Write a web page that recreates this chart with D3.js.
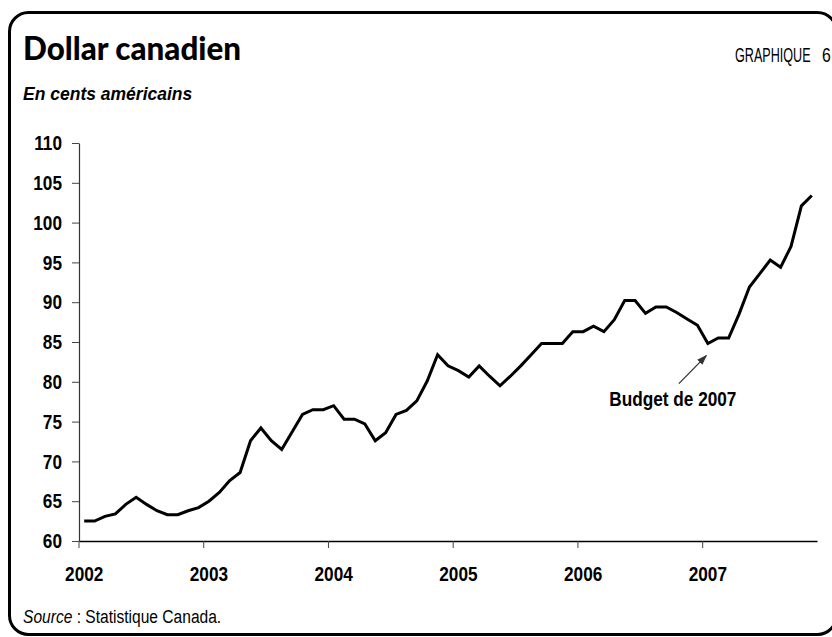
<!DOCTYPE html>
<html>
<head>
<meta charset="utf-8">
<script src="https://cdn.jsdelivr.net/npm/d3@7"></script>
<style>
  html, body { margin: 0; padding: 0; background: #fff; }
  svg { display: block; }
  text { font-family: "Liberation Sans", Arial, sans-serif; }
</style>
</head>
<body>
<div id="chart"></div>
<script>
// Dollar canadien, en cents américains — moyennes mensuelles, janv. 2002 à nov. 2007

const YEARS = ['2002', '2003', '2004', '2005', '2006', '2007'];
const Y_TICKS = [60, 65, 70, 75, 80, 85, 90, 95, 100, 105, 110];

const CAD_2002 = [62.5, 62.5, 63.1, 63.4, 64.6, 65.5, 64.6, 63.8, 63.3, 63.3, 63.8, 64.2];
const CAD_2003 = [65.0, 66.1, 67.6, 68.6, 72.6, 74.2, 72.6, 71.5, 73.7, 75.9, 76.5, 76.5];
const CAD_2004 = [77.0, 75.3, 75.3, 74.7, 72.6, 73.6, 75.9, 76.4, 77.6, 80.1, 83.4, 82.0];
const CAD_2005 = [81.4, 80.6, 82.0, 80.7, 79.5, 80.7, 82.0, 83.4, 84.8, 84.8, 84.8, 86.3];
const CAD_2006 = [86.3, 87.0, 86.3, 87.8, 90.2, 90.2, 88.6, 89.4, 89.4, 88.7, 87.9, 87.1];
const CAD_2007 = [84.8, 85.5, 85.5, 88.5, 91.9, 93.6, 95.3, 94.4, 97.0, 102.1, 103.4];

const ANNOTATION = { label: 'Budget de 2007', month: 60 };

const values = [].concat(CAD_2002, CAD_2003, CAD_2004, CAD_2005, CAD_2006, CAD_2007);

const W = 832, H = 637;
const NARROW = 0.82;   // pas d'Arial Narrow installée : on comprime Liberation Sans

// comprime horizontalement un texte autour de son point d'ancrage
function narrow(sel, k = NARROW) {
  sel.each(function () {
    const t = d3.select(this);
    const x0 = +t.attr('x') || 0;
    t.attr('transform', `translate(${x0},0) scale(${k},1) translate(${-x0},0)`);
  });
}

const svg = d3.select('#chart').append('svg').attr('width', W).attr('height', H);

// cadre arrondi (le bord droit déborde de la page, comme dans l'original)
svg.append('rect')
  .attr('x', 9.5).attr('y', 12.5).attr('width', 827).attr('height', 622)
  .attr('rx', 19).attr('ry', 19)
  .attr('fill', 'none').attr('stroke', '#000').attr('stroke-width', 3);

svg.append('text')
  .attr('x', 23).attr('y', 60)
  .attr('textLength', 218).attr('lengthAdjust', 'spacingAndGlyphs')
  .style('font-family', 'Lato, "Open Sans", sans-serif')
  .style('font-weight', 900).style('font-size', '32px')
  .text('Dollar canadien');

svg.append('text')
  .attr('x', 735).attr('y', 61.7)
  .style('font-size', '21px')
  .text('GRAPHIQUE')
  .call(narrow, 0.6);
svg.append('text')
  .attr('x', 822).attr('y', 61.7)
  .style('font-size', '21px')
  .text('6')
  .call(narrow, 0.75);

svg.append('text')
  .attr('x', 23).attr('y', 100)
  .style('font-weight', 700).style('font-style', 'italic').style('font-size', '17.5px')
  .text('En cents américains');

const src = svg.append('text')
  .attr('x', 23).attr('y', 623.5)
  .style('font-size', '19px');
src.append('tspan').style('font-style', 'italic').text('Source');
src.append('tspan').text(' : Statistique Canada.');
src.call(narrow);

// échelles
const x = d3.scaleBand().domain(d3.range(values.length)).range([79, 817]);
const y = d3.scaleLinear().domain([60, 110]).range([541, 143]);
const cx = i => x(i) + x.bandwidth() / 2;

// axe vertical
const gy = svg.append('g')
  .attr('transform', 'translate(79,0)')
  .call(d3.axisLeft(y).tickValues(Y_TICKS).tickSize(7).tickSizeOuter(0).tickPadding(10));
gy.select('.domain').attr('stroke', '#333').attr('stroke-width', 1.2);
gy.selectAll('.tick line').attr('stroke', '#444');
gy.selectAll('.tick text')
  .attr('fill', '#000')
  .style('font-family', '"Liberation Sans", Arial, sans-serif')
  .style('font-size', '21px').style('font-weight', 700)
  .call(narrow);

// axe horizontal : traits au début de chaque année, étiquettes sous janvier
const yearStarts = YEARS.map((_, k) => k * 12);
const gx = svg.append('g')
  .attr('transform', 'translate(0,541)')
  .call(d3.axisBottom(x).tickValues(yearStarts).tickFormat((d, k) => YEARS[k])
    .tickSize(7).tickSizeOuter(0).tickPadding(0));
gx.select('.domain').attr('stroke', '#000').attr('stroke-width', 1.5);
gx.selectAll('.tick line')
  .attr('x1', -x.bandwidth() / 2).attr('x2', -x.bandwidth() / 2)
  .attr('stroke', '#444');
gx.selectAll('.tick text')
  .attr('y', 40.5).attr('dy', 0)
  .attr('fill', '#000')
  .style('font-family', '"Liberation Sans", Arial, sans-serif')
  .style('font-size', '21px').style('font-weight', 700)
  .call(narrow);

// série
svg.append('path')
  .datum(values)
  .attr('fill', 'none').attr('stroke', '#000').attr('stroke-width', 3)
  .attr('stroke-linejoin', 'miter')
  .attr('d', d3.line().x((d, i) => cx(i)).y(d => y(d)));

// annotation
svg.append('defs').append('marker')
  .attr('id', 'arrow').attr('viewBox', '0 0 10 10')
  .attr('refX', 9).attr('refY', 5)
  .attr('markerWidth', 8).attr('markerHeight', 8)
  .attr('orient', 'auto')
  .append('path').attr('d', 'M0,1.5L10,5L0,8.5Z').attr('fill', '#333');

const ax = cx(ANNOTATION.month), ay = y(values[ANNOTATION.month]);
svg.append('line')
  .attr('x1', ax - 29).attr('y1', ay + 40)
  .attr('x2', ax - 1.5).attr('y2', ay + 12)
  .attr('stroke', '#333').attr('stroke-width', 1.3)
  .attr('marker-end', 'url(#arrow)');
svg.append('text')
  .attr('x', ax - 35).attr('y', ay + 62)
  .attr('text-anchor', 'middle')
  .style('font-size', '21px').style('font-weight', 700)
  .text(ANNOTATION.label)
  .call(narrow);
</script>
</body>
</html>
